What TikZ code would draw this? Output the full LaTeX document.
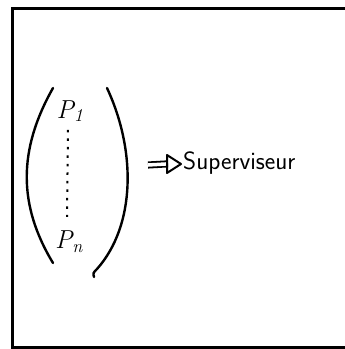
\documentclass[tikz,border=0pt]{standalone}
\usepackage{fontspec}
\begin{document}
\begin{tikzpicture}[x=1pt,y=-1pt,
  frame/.style={line width=3pt},
  paren/.style={line width=2.4pt, line cap=round},
  lbl/.style={inner sep=0pt, font=\itshape\fontsize{26}{29}\selectfont},
  dotline/.style={line width=2pt, dash pattern=on 2.5pt off 6pt},
  shaft/.style={double, double distance=3.5pt, line width=1.8pt, shorten >=15pt},
  openhead/.style={line width=2pt, line join=round}]
\useasboundingbox (0,0) rectangle (345,349);
% frame (open on the right)
\draw[frame] (345,8) -- (12,8) -- (12,347) -- (345,347);
% parentheses
\draw[paren] (53,88) .. controls (18,150) and (18,205) .. (53,263);
\draw[paren] (107,88) .. controls (136,150) and (136,225) .. (97,269) .. controls (93,273) .. (94,277);
% elements
\node[lbl] (p1) at (70,111) {P\textsubscript{1}};
\node[lbl] (pn) at (69,242) {P\textsubscript{n}};
\path (p1.south) ++(-2,8) coordinate (d1) (pn.north) ++(-2,-14) coordinate (d2);
\draw[dotline] (d1) -- (d2);
\node[lbl, anchor=west, font=\sffamily\fontsize{25}{28}\selectfont] (sup) at (183,163) {Superviseur};
\coordinate (astart) at (148,165);
\draw[shaft] (astart) -- (sup.west);
\draw[openhead, shift={(sup.west)}] (-2,1) -- (-16,-8) -- (-16,10) -- cycle;
\end{tikzpicture}
\end{document}
